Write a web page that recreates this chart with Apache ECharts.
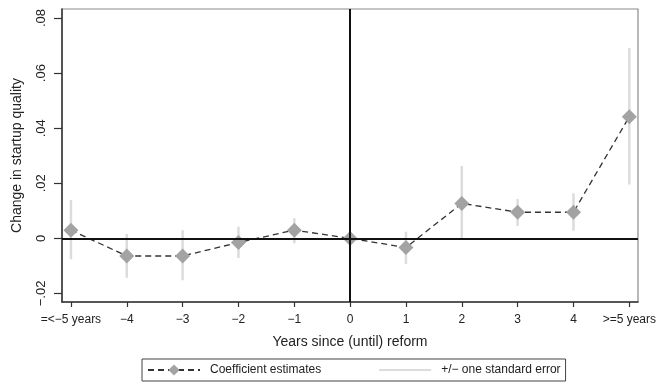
<!DOCTYPE html>
<html>
<head>
<meta charset="utf-8">
<script src="https://cdn.jsdelivr.net/npm/echarts@6/dist/echarts.min.js"></script>
<style>
html,body{margin:0;padding:0;background:#fff;}
#chart{width:659px;height:385px;}
</style>
</head>
<body>
<div id="chart"></div>
<script>
// Event-time categories (years since reform)
var years = [-5, -4, -3, -2, -1, 0, 1, 2, 3, 4, 5];
var xTickLabels = ['=<\u22125 years', '\u22124', '\u22123', '\u22122', '\u22121', '0', '1', '2', '3', '4', '>=5 years'];
// Coefficient estimates
var coef = [0.0030, -0.0064, -0.0064, -0.0015, 0.0030, 0.0000, -0.0033, 0.0127, 0.0095, 0.0095, 0.0442];
// +/- one standard error bounds
var upper = [0.0139, 0.0016, 0.0030, 0.0042, 0.0073, 0.0000, 0.0024, 0.0263, 0.0143, 0.0164, 0.0691];
var lower = [-0.0076, -0.0143, -0.0152, -0.0071, -0.0018, 0.0000, -0.0093, -0.0006, 0.0045, 0.0028, 0.0196];
// Y ticks
var yTicks = [-0.02, 0, 0.02, 0.04, 0.06, 0.08];
var yTickLabels = ['\u2212.02', '0', '.02', '.04', '.06', '.08'];

var coefData = years.map(function (y, i) { return [y, coef[i]]; });
var seData = [];
years.forEach(function (y, i) {
  if (upper[i] !== lower[i]) {
    seData.push([y, lower[i]]);
    seData.push([y, upper[i]]);
    seData.push('-');
  }
});

var FONT = '"Liberation Sans", Arial, sans-serif';
var chart = echarts.init(document.getElementById('chart'), null, {renderer: 'canvas'});
chart.setOption({
  animation: false,
  backgroundColor: '#fff',
  textStyle: {fontFamily: FONT},
  grid: {
    left: 62, right: 20, top: 9, bottom: 83,
    show: true, borderColor: '#8a8a8a', borderWidth: 1.2, backgroundColor: 'transparent'
  },
  xAxis: {
    type: 'value', min: -5.16, max: 5.155,
    name: 'Years since (until) reform', nameLocation: 'middle', nameGap: 33,
    nameTextStyle: {fontSize: 14, color: '#222', fontFamily: FONT},
    axisLine: {show: true, onZero: false, lineStyle: {color: '#333', width: 1.5}},
    axisTick: {show: true, length: 5, customValues: years, lineStyle: {color: '#333', width: 1.2}},
    axisLabel: {
      customValues: years, margin: 12, fontSize: 12, color: '#222', fontFamily: FONT,
      formatter: function (v) { var i = years.indexOf(Math.round(v)); return i >= 0 ? xTickLabels[i] : ''; }
    },
    splitLine: {show: false}
  },
  yAxis: {
    type: 'value', min: -0.0231, max: 0.0833,
    name: 'Change in startup quality', nameLocation: 'middle', nameGap: 38,
    nameTextStyle: {fontSize: 14, color: '#222', fontFamily: FONT},
    axisLine: {show: true, onZero: false, lineStyle: {color: '#333', width: 1.5}},
    axisTick: {show: true, length: 8, customValues: yTicks, lineStyle: {color: '#333', width: 1.2}},
    axisLabel: {
      customValues: yTicks, rotate: 90, margin: 14, fontSize: 13, color: '#222', fontFamily: FONT,
      formatter: function (v) {
        for (var i = 0; i < yTicks.length; i++) { if (Math.abs(yTicks[i] - v) < 1e-6) return yTickLabels[i]; }
        return '';
      }
    },
    splitLine: {show: false}
  },
  legend: {
    left: 142, top: 359,
    padding: [5, 5, 5, 5],
    itemWidth: 52, itemHeight: 14, itemGap: 57,
    borderColor: '#444', borderWidth: 1, borderRadius: 0,
    textStyle: {fontSize: 12, color: '#222', fontFamily: FONT, padding: [0, 0, 0, 5]},
    data: [
      {name: 'Coefficient estimates'},
      {name: '+/\u2212 one standard error', itemStyle: {opacity: 0}}
    ]
  },
  series: [
    {
      name: '+/\u2212 one standard error',
      type: 'line', z: 1,
      data: seData, connectNulls: false,
      symbol: 'none', showSymbol: false,
      lineStyle: {color: '#dcdcdc', width: 2.5},
      itemStyle: {color: '#dcdcdc'}
    },
    {
      name: 'refs', type: 'line', z: 2, data: [],
      markLine: {
        silent: true, symbol: ['none', 'none'], label: {show: false},
        lineStyle: {color: '#111', width: 2, type: 'solid'},
        data: [{yAxis: 0}, {xAxis: 0}]
      }
    },
    {
      name: 'Coefficient estimates',
      type: 'line', z: 3,
      data: coefData,
      symbol: 'diamond', symbolSize: 15,
      itemStyle: {color: '#a3a3a3', borderWidth: 0},
      lineStyle: {color: '#333', width: 1.3, type: [6, 4]}
    }
  ]
});
</script>
</body>
</html>
